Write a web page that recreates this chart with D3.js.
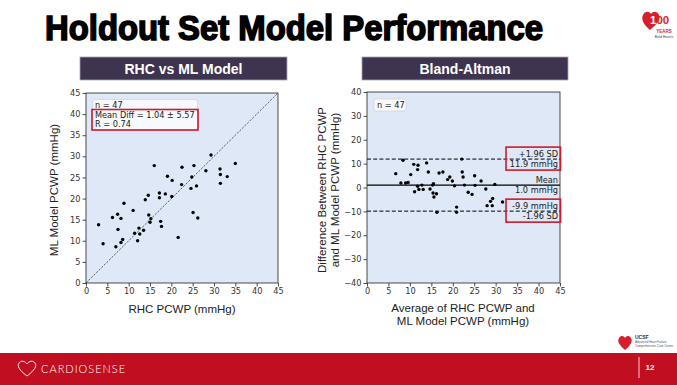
<!DOCTYPE html>
<html>
<head>
<meta charset="utf-8">
<script src="https://cdn.jsdelivr.net/npm/d3@7"></script>
<style>
  body { margin: 0; background: #fff; }
  svg { display: block; }
</style>
</head>
<body>
<svg id="chart" width="677" height="385"></svg>
<script>
// ---- data ----
// left panel: RHC PCWP (x) vs ML model PCWP (y)
const rhcPcwp = [2.95, 4.0, 6.2, 7.0, 7.4, 7.5, 8.2, 8.2, 8.6, 8.9, 11.05, 11.4, 12.1, 12.4, 12.6, 13.5,
  13.9, 14.6, 14.7, 15.0, 15.2, 16.0, 17.2, 17.2, 17.5, 17.7, 18.6, 19.1, 20.1, 20.2, 21.6, 22.4,
  22.5, 24.6, 24.8, 25.1, 25.3, 25.9, 26.2, 28.1, 29.3, 31.4, 31.5, 31.5, 33.1, 35.0];
const mlPcwp = [13.8, 9.3, 15.5, 8.6, 16.3, 12.7, 15.3, 9.6, 10.3, 18.9, 17.2, 11.8, 10.0, 13.0, 11.6, 12.5,
  19.7, 20.8, 16.1, 14.4, 15.2, 27.8, 21.3, 20.2, 14.6, 13.4, 21.1, 25.3, 20.5, 24.3, 10.8, 23.3,
  27.4, 22.4, 25.1, 16.7, 27.8, 23.0, 15.4, 26.6, 30.3, 27.0, 25.7, 23.6, 25.2, 28.3];

// right panel: Bland-Altman (average vs difference)
const baAverage = [6.7, 7.9, 8.4, 9.0, 9.6, 10.2, 10.9, 11.1, 11.8, 11.8, 11.9, 12.1, 12.8, 13.1, 13.9, 14.3,
  14.7, 15.3, 15.4, 15.5, 15.6, 16.2, 16.3, 16.8, 17.7, 18.8, 19.3, 19.9, 20.4, 20.9, 20.9, 22.1,
  22.2, 22.4, 22.7, 23.6, 24.5, 25.1, 25.2, 26.6, 27.7, 28.0, 28.8, 29.2, 29.3, 29.8, 31.6];
const baDiff = [5.8, 1.9, 11.4, 1.9, 2.1, 5.4, 9.7, -1.8, 7.5, 0.5, 9.3, -0.8, 1.0, -0.8, 10.3, 6.5,
  -0.6, 1.0, -2.3, 1.6, -4.0, -2.6, -10.4, 6.1, 6.5, 3.3, 4.4, 2.7, 0.7, -8.2, -10.4, 11.9,
  6.5, 4.4, 1.0, -2.0, -2.9, 4.9, 0.9, 2.7, -0.6, -7.6, -5.8, -7.6, -4.6, 1.3, -6.1];

const meanDiff = 1.0, upperLoA = 11.9, lowerLoA = -9.9;
const nSamples = 47;
const statsLines = ["Mean Diff = 1.04 \u00b1 5.57", "R = 0.74"];
const axisTicks = [0, 5, 10, 15, 20, 25, 30, 35, 40, 45];
const diffTicks = [-40, -30, -20, -10, 0, 10, 20, 30, 40];

// ---- setup ----
const svg = d3.select("#chart");
const RED = "#c10e21";
const BOXRED = "#cc1a2c";
const PANEL_BG = "#dfe8f6";
const MONO = "DejaVu Sans, sans-serif";
const ARIAL = "Liberation Sans, Arial, sans-serif";

// title
svg.append("text")
  .attr("x", 45).attr("y", 40)
  .attr("font-family", ARIAL).attr("font-weight", "bold").attr("font-size", 35)
  .attr("fill", "#000").attr("stroke", "#000").attr("stroke-width", 1.6)
  .attr("textLength", 498).attr("lengthAdjust", "spacingAndGlyphs")
  .text("Holdout Set Model Performance");

// panel headers
const headers = [
  { label: "RHC vs ML Model", x0: 80, x1: 287 },
  { label: "Bland-Altman", x0: 362, x1: 568 }
];
headers.forEach(h => {
  svg.append("rect").attr("x", h.x0).attr("y", 57).attr("width", h.x1 - h.x0).attr("height", 23)
    .attr("fill", "#3f3450").attr("stroke", "#a9a3b3").attr("stroke-width", 0.8);
  svg.append("text").attr("x", (h.x0 + h.x1) / 2).attr("y", 73.5)
    .attr("text-anchor", "middle").attr("fill", "#fff")
    .attr("font-family", "Liberation Sans Narrow, " + ARIAL).attr("font-weight", "bold").attr("font-size", 14)
    .text(h.label);
});

function drawAxes(g, x, y, xt, yt) {
  g.append("g").attr("transform", `translate(0,${y.range()[0]})`)
    .call(d3.axisBottom(x).tickValues(xt).tickSize(3.5).tickPadding(2).tickSizeOuter(0));
  g.append("g").attr("transform", `translate(${x.range()[0]},0)`)
    .call(d3.axisLeft(y).tickValues(yt).tickSize(3.5).tickPadding(2).tickSizeOuter(0));
  g.selectAll(".domain").remove();
  g.selectAll(".tick line").attr("stroke", "#222").attr("stroke-width", 0.8);
  g.selectAll(".tick text").attr("font-family", MONO).attr("font-size", 8.2).attr("fill", "#333");
  // frame
  g.append("rect")
    .attr("x", x.range()[0]).attr("y", y.range()[1])
    .attr("width", x.range()[1] - x.range()[0]).attr("height", y.range()[0] - y.range()[1])
    .attr("fill", "none").attr("stroke", "#222").attr("stroke-width", 0.8);
}

// ---- left: scatter ----
const x1 = d3.scaleLinear().domain([0, 45]).range([86, 278]);
const y1 = d3.scaleLinear().domain([0, 45]).range([283, 93]);
const left = svg.append("g");
left.append("rect").attr("x", 86).attr("y", 93).attr("width", 192).attr("height", 190).attr("fill", PANEL_BG);
left.append("line")
  .attr("x1", x1(0)).attr("y1", y1(0)).attr("x2", x1(45)).attr("y2", y1(45))
  .attr("stroke", "#222").attr("stroke-width", 0.7).attr("stroke-dasharray", "2.2,1.4");
left.selectAll("circle").data(rhcPcwp.map((v, i) => [v, mlPcwp[i]])).join("circle")
  .attr("cx", d => x1(d[0])).attr("cy", d => y1(d[1])).attr("r", 1.7).attr("fill", "#000");
drawAxes(left, x1, y1, axisTicks, axisTicks);

// legend box
left.append("rect").attr("x", 92.5).attr("y", 99.5).attr("width", 105).attr("height", 30.5).attr("rx", 2)
  .attr("fill", "#fff").attr("fill-opacity", 0.75).attr("stroke", "#ccc").attr("stroke-width", 0.6);
left.append("text").attr("x", 95).attr("y", 108).attr("font-family", MONO).attr("font-size", 8.2)
  .attr("fill", "#222").text(`n = ${nSamples}`);
statsLines.forEach((s, i) => {
  left.append("text").attr("x", 95).attr("y", 117.5 + i * 9).attr("font-family", MONO).attr("font-size", 8.2)
    .attr("fill", "#222").text(s);
});
left.append("rect").attr("x", 92).attr("y", 109.5).attr("width", 106).attr("height", 20.5)
  .attr("fill", "none").attr("stroke", BOXRED).attr("stroke-width", 1.6);

left.append("text").attr("transform", "translate(58,190) rotate(-90)").attr("text-anchor", "middle")
  .attr("font-family", ARIAL).attr("font-size", 11.5).attr("fill", "#222").text("ML Model PCWP (mmHg)");
left.append("text").attr("x", 182).attr("y", 313).attr("text-anchor", "middle")
  .attr("font-family", ARIAL).attr("font-size", 11.5).attr("fill", "#222").text("RHC PCWP (mmHg)");

// ---- right: Bland-Altman ----
const x2 = d3.scaleLinear().domain([0, 45]).range([367, 560]);
const y2 = d3.scaleLinear().domain([-40, 40]).range([283, 92]);
const right = svg.append("g");
right.append("rect").attr("x", 367).attr("y", 92).attr("width", 193).attr("height", 191).attr("fill", PANEL_BG);

[[upperLoA, "4,2.2"], [meanDiff, null], [lowerLoA, "4,2.2"]].forEach(([v, dash]) => {
  right.append("line").attr("x1", x2(0)).attr("x2", x2(45)).attr("y1", y2(v)).attr("y2", y2(v))
    .attr("stroke", "#000").attr("stroke-width", dash ? 1 : 1.2).attr("stroke-dasharray", dash);
});
right.selectAll("circle").data(baAverage.map((v, i) => [v, baDiff[i]])).join("circle")
  .attr("cx", d => x2(d[0])).attr("cy", d => y2(d[1])).attr("r", 1.7).attr("fill", "#000");
drawAxes(right, x2, y2, axisTicks, diffTicks);

right.append("rect").attr("x", 374).attr("y", 99).attr("width", 32).attr("height", 12).attr("rx", 2)
  .attr("fill", "#fff").attr("fill-opacity", 0.75).attr("stroke", "#ccc").attr("stroke-width", 0.6);
right.append("text").attr("x", 377).attr("y", 108).attr("font-family", MONO).attr("font-size", 8.2)
  .attr("fill", "#222").text(`n = ${nSamples}`);

const loaLabels = [
  [y2(upperLoA) - 2.5, "+1.96 SD"], [y2(upperLoA) + 8, `${upperLoA.toFixed(1)} mmHg`],
  [y2(meanDiff) - 2.5, "Mean"], [y2(meanDiff) + 8, `${meanDiff.toFixed(1)} mmHg`],
  [y2(lowerLoA) - 2.5, `${lowerLoA.toFixed(1)} mmHg`], [y2(lowerLoA) + 8, "-1.96 SD"]
];
loaLabels.forEach(([yy, t]) => {
  right.append("text").attr("x", 558).attr("y", yy).attr("text-anchor", "end")
    .attr("font-family", MONO).attr("font-size", 8.2).attr("fill", "#222").text(t);
});
[upperLoA, lowerLoA].forEach(v => {
  right.append("rect").attr("x", 506).attr("y", y2(v) - 12).attr("width", 54.5).attr("height", 23)
    .attr("fill", "none").attr("stroke", BOXRED).attr("stroke-width", 1.6);
});

right.append("text").attr("transform", "translate(326,190) rotate(-90)").attr("text-anchor", "middle")
  .attr("font-family", ARIAL).attr("font-size", 11.5).attr("fill", "#222")
  .selectAll("tspan").data(["Difference Between RHC PCWP", "and ML Model PCWP (mmHg)"]).join("tspan")
  .attr("x", 0).attr("dy", (d, i) => i ? 13 : 0).text(d => d);
right.append("text").attr("x", 463).attr("y", 312).attr("text-anchor", "middle")
  .attr("font-family", ARIAL).attr("font-size", 11.5).attr("fill", "#222")
  .selectAll("tspan").data(["Average of RHC PCWP and", "ML Model PCWP (mmHg)"]).join("tspan")
  .attr("x", 463).attr("dy", (d, i) => i ? 13 : 0).text(d => d);

// ---- footer ----
svg.append("rect").attr("x", 0).attr("y", 353).attr("width", 677).attr("height", 32).attr("fill", RED);
svg.append("path")
  .attr("d", "M27,376 C19,370 17,366 19,363 C21,360 25,361 27,364 C29,361 33,360 35,363 C37,366 35,370 27,376 Z")
  .attr("fill", "none").attr("stroke", "#fff").attr("stroke-width", 0.9);
svg.append("text").attr("x", 41).attr("y", 373).attr("fill", "#fff")
  .attr("font-family", "Lato, " + ARIAL).attr("font-weight", 300).attr("font-size", 11).attr("letter-spacing", 1)
  .text("CARDIOSENSE");
svg.append("line").attr("x1", 639).attr("x2", 639).attr("y1", 357).attr("y2", 378)
  .attr("stroke", "#fff").attr("stroke-width", 0.8);
svg.append("text").attr("x", 650).attr("y", 370).attr("text-anchor", "middle").attr("fill", "#fff")
  .attr("font-family", ARIAL).attr("font-weight", "bold").attr("font-size", 8).text("12");

// top-right logo
svg.append("path")
  .attr("d", "M650,30 C643,24 641,19 643,15 C645,11 649,11 651,14 C653,11 657,11 659,15 C661,19 657,24 650,30 Z")
  .attr("fill", "#d71f2b");
const hundred = svg.append("text").attr("x", 650).attr("y", 24).attr("fill", "#d71f2b")
  .attr("font-family", ARIAL).attr("font-weight", "bold").attr("font-size", 11.5);
hundred.append("tspan").attr("fill", "#fff").text("1");
hundred.append("tspan").text("00");
svg.append("text").attr("x", 664).attr("y", 32.5).attr("text-anchor", "middle").attr("fill", "#d71f2b")
  .attr("font-family", ARIAL).attr("font-weight", "bold").attr("font-size", 4.5).text("YEARS");
svg.append("text").attr("x", 664).attr("y", 37.5).attr("text-anchor", "middle").attr("fill", "#444")
  .attr("font-family", ARIAL).attr("font-size", 3.5).text("Bold Hearts");

// bottom-right logo
svg.append("path")
  .attr("d", "M625,350 C619,345 617,341 619,338 C621,335 624,336 625,338 C626,336 629,335 631,338 C633,341 631,345 625,350 Z")
  .attr("fill", "#d71f2b");
svg.append("text").attr("x", 635).attr("y", 339).attr("fill", "#1f2f5a")
  .attr("font-family", ARIAL).attr("font-weight", "bold").attr("font-size", 5).text("UCSF");
svg.append("text").attr("x", 635).attr("y", 343).attr("fill", "#555")
  .attr("font-family", ARIAL).attr("font-size", 3).text("Advanced Heart Failure");
svg.append("text").attr("x", 635).attr("y", 346.5).attr("fill", "#555")
  .attr("font-family", ARIAL).attr("font-size", 3).text("Comprehensive Care Center");
</script>
</body>
</html>
